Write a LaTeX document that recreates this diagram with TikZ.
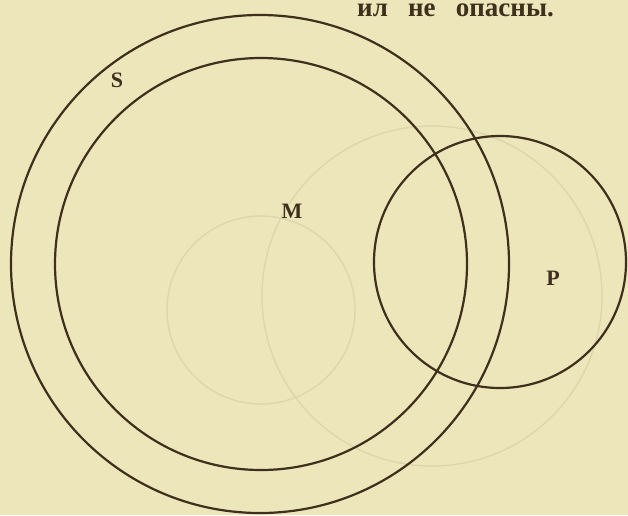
\documentclass[tikz,border=0pt]{standalone}
\usepackage{fontspec}
\setmainfont{Liberation Serif}
\definecolor{paper}{RGB}{236,230,186}
\definecolor{ink}{RGB}{62,48,28}
\definecolor{faint}{RGB}{222,214,170}
\begin{document}
\begin{tikzpicture}[x=1pt,y=-1pt,
  ring/.style={circle,draw=ink,line width=2.2pt,inner sep=0pt},
  ghost/.style={circle,draw=faint,line width=1.4pt,inner sep=0pt},
  lab/.style={text=ink,font=\bfseries\fontsize{22}{22}\selectfont,inner sep=0pt}]
\clip (0,0) rectangle (628,515);
\fill[paper] (0,0) rectangle (628,515);
% faint bleed-through circles
\node[ghost,minimum size=188pt] (g1) at (261,310) {};
\node[ghost,minimum size=340pt] (g2) at (432,296) {};
% main circles
\node[ring,minimum size=498pt] (S) at (260,264) {};
\node[ring,minimum size=412pt] (M) at (261,264) {};
\node[ring,minimum size=252pt] (P) at (500,262) {};
% labels
\node[lab] (ls) at (117,80) {S};
\node[lab] (lm) at (292,211) {M};
\node[lab] (lp) at (553,278) {P};
% top text
\node[text=ink,font=\bfseries\fontsize{27}{27}\selectfont,anchor=base west,inner sep=0pt] (top) at (357,16) {ил\ \ \ не\ \ \ опасны.};
\end{tikzpicture}
\end{document}
